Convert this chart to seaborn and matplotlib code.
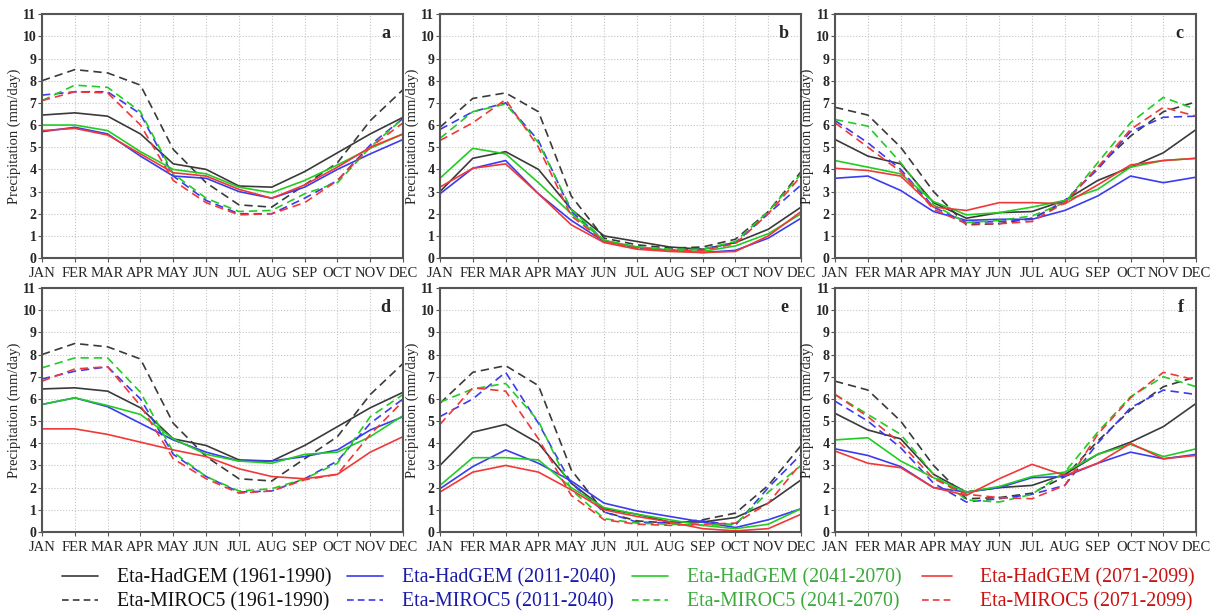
import numpy as np
import pandas as pd
import matplotlib
matplotlib.use("Agg")
import matplotlib.pyplot as plt
import seaborn as sns
from matplotlib.lines import Line2D

sns.set_theme(style="white")
plt.rcParams['font.family'] = ['Liberation Serif', 'DejaVu Serif']

months = ["JAN", "FER", "MAR", "APR", "MAY", "JUN", "JUL", "AUG", "SEP", "OCT", "NOV", "DEC"]
series_names = ["Eta-HadGEM (1961-1990)", "Eta-MIROC5 (1961-1990)",
                "Eta-HadGEM (2011-2040)", "Eta-MIROC5 (2011-2040)",
                "Eta-HadGEM (2041-2070)", "Eta-MIROC5 (2041-2070)",
                "Eta-HadGEM (2071-2099)", "Eta-MIROC5 (2071-2099)"]
panel_letters = ["a", "b", "c", "d", "e", "f"]

# panel a
a_had_hist = [6.45, 6.55, 6.4, 5.6, 4.25, 4.0, 3.25, 3.2, 3.9, 4.75, 5.6, 6.35]
a_mir_hist = [8.0, 8.5, 8.35, 7.8, 4.9, 3.4, 2.4, 2.3, 3.3, 4.3, 6.2, 7.6]
a_had_2011 = [5.7, 5.9, 5.6, 4.6, 3.7, 3.6, 3.0, 2.7, 3.2, 4.0, 4.7, 5.35]
a_mir_2011 = [7.35, 7.5, 7.5, 6.5, 3.7, 2.6, 2.0, 2.0, 2.7, 3.5, 5.1, 6.3]
a_had_2041 = [6.0, 6.0, 5.75, 4.8, 4.0, 3.8, 3.2, 2.95, 3.5, 4.2, 4.95, 5.6]
a_mir_2041 = [7.1, 7.8, 7.7, 6.6, 3.8, 2.7, 2.1, 2.15, 2.9, 3.4, 5.0, 6.3]
a_had_2071 = [5.75, 5.85, 5.55, 4.7, 3.85, 3.7, 3.1, 2.7, 3.3, 4.1, 5.0, 5.6]
a_mir_2071 = [7.1, 7.5, 7.45, 6.0, 3.5, 2.5, 1.95, 2.0, 2.5, 3.5, 5.0, 6.1]

# panel b
b_had_hist = [3.0, 4.5, 4.8, 4.0, 2.2, 1.0, 0.75, 0.5, 0.4, 0.7, 1.3, 2.3]
b_mir_hist = [5.9, 7.2, 7.45, 6.6, 2.8, 0.9, 0.6, 0.45, 0.5, 0.85, 2.1, 3.9]
b_had_2011 = [2.9, 4.05, 4.4, 2.9, 1.7, 0.75, 0.5, 0.35, 0.25, 0.35, 0.9, 1.8]
b_mir_2011 = [5.8, 6.6, 7.0, 5.3, 2.1, 0.8, 0.45, 0.35, 0.4, 0.7, 2.0, 3.3]
b_had_2041 = [3.6, 4.95, 4.7, 3.4, 2.0, 0.8, 0.5, 0.35, 0.3, 0.55, 1.1, 2.0]
b_mir_2041 = [5.4, 6.6, 6.95, 5.2, 2.2, 0.8, 0.5, 0.4, 0.4, 0.75, 2.1, 3.8]
b_had_2071 = [3.2, 4.05, 4.25, 2.9, 1.5, 0.7, 0.4, 0.3, 0.25, 0.3, 1.0, 2.1]
b_mir_2071 = [5.3, 6.1, 7.15, 5.0, 1.9, 0.75, 0.45, 0.35, 0.35, 0.65, 2.0, 3.7]

# panel c
c_had_hist = [5.35, 4.6, 4.25, 2.5, 1.8, 2.05, 2.1, 2.6, 3.5, 4.1, 4.75, 5.8]
c_mir_hist = [6.8, 6.45, 5.0, 3.0, 1.5, 1.55, 1.8, 2.5, 4.1, 5.5, 6.6, 7.05]
c_had_2011 = [3.6, 3.7, 3.05, 2.1, 1.7, 1.75, 1.75, 2.15, 2.8, 3.7, 3.4, 3.65]
c_mir_2011 = [6.2, 5.2, 4.0, 2.3, 1.6, 1.65, 1.75, 2.6, 4.0, 5.7, 6.35, 6.4]
c_had_2041 = [4.4, 4.1, 3.8, 2.55, 1.95, 2.05, 2.3, 2.6, 3.1, 4.1, 4.4, 4.5]
c_mir_2041 = [6.25, 5.95, 4.3, 2.4, 1.6, 1.7, 1.9, 2.5, 4.3, 6.1, 7.25, 6.7]
c_had_2071 = [4.05, 3.95, 3.7, 2.3, 2.15, 2.5, 2.5, 2.45, 3.3, 4.2, 4.4, 4.5]
c_mir_2071 = [6.1, 5.0, 3.9, 2.2, 1.55, 1.55, 1.65, 2.5, 4.1, 5.8, 6.8, 6.4]

# panel d
d_had_hist = [6.45, 6.5, 6.35, 5.6, 4.2, 3.9, 3.25, 3.2, 3.9, 4.75, 5.6, 6.3]
d_mir_hist = [8.0, 8.5, 8.35, 7.8, 4.9, 3.4, 2.4, 2.3, 3.3, 4.3, 6.2, 7.6]
d_had_2011 = [5.75, 6.05, 5.65, 4.9, 4.15, 3.6, 3.2, 3.2, 3.4, 3.7, 4.6, 5.2]
d_mir_2011 = [6.9, 7.25, 7.45, 6.0, 3.5, 2.5, 1.8, 1.85, 2.4, 3.2, 4.9, 6.0]
d_had_2041 = [5.75, 6.05, 5.7, 5.3, 4.2, 3.5, 3.2, 3.1, 3.5, 3.6, 4.3, 5.25]
d_mir_2041 = [7.4, 7.85, 7.85, 6.3, 3.6, 2.5, 1.85, 1.95, 2.4, 3.1, 5.2, 6.2]
d_had_2071 = [4.65, 4.65, 4.4, 4.05, 3.7, 3.4, 2.85, 2.5, 2.4, 2.6, 3.6, 4.3]
d_mir_2071 = [6.8, 7.35, 7.45, 5.7, 3.3, 2.4, 1.75, 1.85, 2.35, 2.6, 4.4, 5.9]

# panel e
e_had_hist = [3.0, 4.5, 4.85, 4.0, 2.2, 1.05, 0.8, 0.45, 0.45, 0.65, 1.3, 2.35]
e_mir_hist = [5.8, 7.2, 7.5, 6.6, 2.8, 0.9, 0.5, 0.4, 0.55, 0.85, 2.1, 3.9]
e_had_2011 = [1.95, 2.95, 3.7, 3.1, 2.3, 1.3, 0.95, 0.7, 0.45, 0.2, 0.55, 1.05]
e_mir_2011 = [5.2, 6.0, 7.2, 4.9, 2.2, 0.9, 0.45, 0.4, 0.5, 0.3, 2.0, 3.5]
e_had_2041 = [2.1, 3.35, 3.35, 3.25, 2.0, 1.1, 0.8, 0.55, 0.3, 0.15, 0.35, 1.05]
e_mir_2041 = [5.85, 6.45, 6.7, 5.0, 1.9, 0.6, 0.4, 0.35, 0.3, 0.35, 1.8, 3.0]
e_had_2071 = [1.8, 2.7, 3.0, 2.7, 1.9, 1.0, 0.7, 0.45, 0.15, 0.05, 0.15, 0.8]
e_mir_2071 = [4.85, 6.5, 6.35, 4.2, 1.65, 0.55, 0.35, 0.3, 0.35, 0.4, 1.3, 3.1]

# panel f
f_had_hist = [5.35, 4.6, 4.2, 2.6, 1.8, 2.0, 2.1, 2.6, 3.5, 4.05, 4.75, 5.8]
f_mir_hist = [6.8, 6.4, 5.0, 3.0, 1.5, 1.55, 1.75, 2.5, 4.1, 5.5, 6.55, 7.0]
f_had_2011 = [3.75, 3.45, 2.95, 2.0, 1.8, 2.0, 2.45, 2.5, 3.1, 3.6, 3.3, 3.5]
f_mir_2011 = [5.9, 5.0, 3.8, 2.2, 1.35, 1.5, 1.7, 2.1, 4.0, 5.6, 6.4, 6.2]
f_had_2041 = [4.15, 4.25, 3.2, 2.45, 1.8, 2.05, 2.5, 2.7, 3.5, 3.95, 3.4, 3.75]
f_mir_2041 = [6.2, 5.3, 4.4, 2.6, 1.45, 1.35, 1.7, 2.7, 4.5, 6.1, 7.0, 6.55]
f_had_2071 = [3.65, 3.1, 2.9, 2.0, 1.65, 2.4, 3.05, 2.55, 3.1, 4.0, 3.3, 3.45]
f_mir_2071 = [6.2, 5.2, 4.0, 2.4, 1.7, 1.55, 1.5, 2.1, 4.4, 6.05, 7.2, 6.85]

panels = [
    [a_had_hist, a_mir_hist, a_had_2011, a_mir_2011, a_had_2041, a_mir_2041, a_had_2071, a_mir_2071],
    [b_had_hist, b_mir_hist, b_had_2011, b_mir_2011, b_had_2041, b_mir_2041, b_had_2071, b_mir_2071],
    [c_had_hist, c_mir_hist, c_had_2011, c_mir_2011, c_had_2041, c_mir_2041, c_had_2071, c_mir_2071],
    [d_had_hist, d_mir_hist, d_had_2011, d_mir_2011, d_had_2041, d_mir_2041, d_had_2071, d_mir_2071],
    [e_had_hist, e_mir_hist, e_had_2011, e_mir_2011, e_had_2041, e_mir_2041, e_had_2071, e_mir_2071],
    [f_had_hist, f_mir_hist, f_had_2011, f_mir_2011, f_had_2041, f_mir_2041, f_had_2071, f_mir_2071],
]

line_colors = ["#3a3a3a", "#3a3a3a", "#3b3bf0", "#3b3bf0", "#22cc22", "#22cc22", "#f03838", "#f03838"]
text_colors = ["#111111", "#111111", "#1a1aa8", "#1a1aa8", "#3caa3c", "#3caa3c", "#cc1111", "#cc1111"]
styles = ["-", "--"] * 4

fig = plt.figure(figsize=(12.16, 6.16), dpi=100)
lefts = [0.0345, 0.3618, 0.6867]
width = 0.297
bottoms = [0.581, 0.1364]
height = 0.396

x_idx = np.arange(len(months))
for p in range(6):
    r, c = divmod(p, 3)
    ax = fig.add_axes([lefts[c], bottoms[r], width, height])
    for s in range(8):
        df = pd.DataFrame({"month": x_idx, "value": panels[p][s]})
        sns.lineplot(data=df, x="month", y="value", ax=ax, color=line_colors[s],
                     linewidth=1.2, linestyle=styles[s], legend=False)
        if styles[s] == "--":
            ax.lines[-1].set_dashes((5, 3))
    ax.set_xlim(0, 11)
    ax.set_ylim(0, 11)
    ax.set_xticks(x_idx)
    ax.set_xticklabels(months, fontsize=10.5)
    ax.set_yticks(range(0, 12))
    ax.set_yticklabels([str(v) for v in range(0, 12)], fontsize=10, fontweight="bold")
    ax.set_xlabel("")
    ax.set_ylabel("Precipitation (mm/day)", fontsize=10.5, labelpad=1)
    ax.grid(True, color="#c4c4c4", linestyle=":", linewidth=0.8)
    ax.tick_params(axis="both", which="both", length=3, width=0.8, color="#555555", pad=1,
                   direction="out", left=True, bottom=True)
    ax.tick_params(axis="x", pad=3.5)
    for sp in ax.spines.values():
        sp.set_color("#555555")
        sp.set_linewidth(1.5)
    ax.text(0.965, 0.955, panel_letters[p], transform=ax.transAxes, ha="right", va="top",
            fontsize=13, fontweight="bold")

handles = []
for s in range(8):
    h = Line2D([0], [0], color=line_colors[s], linestyle=styles[s], linewidth=1.2)
    if styles[s] == "--":
        h.set_dashes((4, 2.5))
    handles.append(h)

col_x = [62 / 1216, 347 / 1216, 632 / 1216, 922 / 1216]
col_pad = [0.95, 0.95, 0.95, 1.4]
col_len = [1.8, 1.8, 1.8, 1.5]
for k in range(4):
    leg = fig.legend(handles[2 * k:2 * k + 2], series_names[2 * k:2 * k + 2], loc="upper left",
                     bbox_to_anchor=(col_x[k], 0.0775), frameon=False, fontsize=14.3,
                     handlelength=col_len[k], handletextpad=col_pad[k], labelspacing=0.25,
                     borderpad=0, borderaxespad=0)
    for t, col in zip(leg.get_texts(), text_colors[2 * k:2 * k + 2]):
        t.set_color(col)

fig.savefig("out.png", dpi=100)
